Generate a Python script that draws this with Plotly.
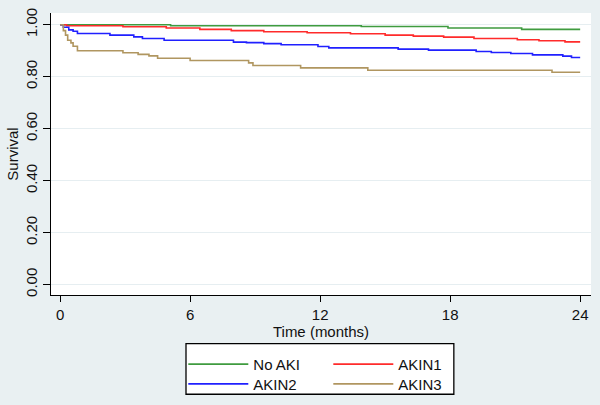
import plotly.graph_objects as go

# Kaplan-Meier step data (time in months, survival)
noaki_t = [0, 5.1, 13.9, 17.9, 21.3, 24]
noaki_s = [1.000, 0.996, 0.993, 0.987, 0.982, 0.982]

akin1_t = [0, 0.3, 2.9, 4.9, 6.45, 7.9, 9.4, 11.4, 13.4, 15.0, 16.3, 17.7, 19.1, 21.1, 22.1, 23.3, 24]
akin1_s = [1.000, 0.996, 0.992, 0.987, 0.982, 0.977, 0.973, 0.969, 0.965, 0.960, 0.956, 0.952, 0.947, 0.942, 0.938, 0.934, 0.934]

akin2_t = [0, 0.15, 0.4, 0.6, 0.8, 2.3, 3.4, 3.8, 4.8, 8.0, 8.6, 9.4, 10.2, 11.9, 12.4, 15.6, 17.0, 19.2, 19.9, 20.8, 21.8, 23.2, 23.6, 24]
akin2_s = [1.000, 0.990, 0.980, 0.975, 0.966, 0.960, 0.953, 0.947, 0.940, 0.933, 0.931, 0.927, 0.923, 0.916, 0.911, 0.906, 0.902, 0.897, 0.893, 0.889, 0.884, 0.879, 0.874, 0.874]

akin3_t = [0, 0.15, 0.25, 0.35, 0.5, 0.6, 0.8, 2.9, 3.6, 4.1, 4.5, 6.0, 8.7, 8.9, 11.1, 14.2, 22.7, 24]
akin3_s = [1.000, 0.977, 0.960, 0.940, 0.930, 0.917, 0.900, 0.892, 0.886, 0.880, 0.871, 0.862, 0.853, 0.843, 0.834, 0.825, 0.817, 0.817]

x_ticks = [0, 6, 12, 18, 24]
y_ticks = [0, 0.2, 0.4, 0.6, 0.8, 1.0]
y_ticklabels = ["0.00", "0.20", "0.40", "0.60", "0.80", "1.00"]

series = [
    ("No AKI", noaki_t, noaki_s, "#3f9b3f", "legend"),
    ("AKIN1", akin1_t, akin1_s, "#ff2b2b", "legend"),
    ("AKIN2", akin2_t, akin2_s, "#2020ff", "legend2"),
    ("AKIN3", akin3_t, akin3_s, "#b09660", "legend2"),
]

fig = go.Figure()
for name, t, s, col, lg in series:
    fig.add_trace(go.Scatter(x=t, y=s, mode="lines", name=name,
                             line=dict(color=col, width=1.6, shape="hv"),
                             legend=lg))

bg = "#e9f0f2"
font = dict(family="Liberation Sans, Arial, sans-serif", size=14, color="#111111")

legend_common = dict(orientation="h", x=0.245, xanchor="left", yanchor="middle",
                     bgcolor="rgba(0,0,0,0)", entrywidth=70, entrywidthmode="pixels",
                     itemwidth=60, font=dict(size=15), traceorder="normal",
                     tracegroupgap=0)

fig.update_layout(
    width=600, height=405,
    margin=dict(l=51, r=9, t=13, b=110, autoexpand=False),
    paper_bgcolor=bg, plot_bgcolor="white",
    font=font,
    xaxis=dict(range=[-0.42, 24.5], tickvals=x_ticks, ticktext=[str(v) for v in x_ticks],
               automargin=False,
               showgrid=False, zeroline=False, showline=True, linecolor="black", linewidth=1.3,
               ticks="outside", ticklen=6, tickcolor="black", tickfont=dict(size=15),
               title=dict(text="Time (months)", standoff=0, font=dict(size=15))),
    yaxis=dict(range=[-0.04, 1.045], tickvals=y_ticks, ticktext=y_ticklabels, tickangle=-90,
               automargin=False,
               showgrid=True, gridcolor="#e6eef1", gridwidth=1, zeroline=False,
               showline=True, linecolor="black", linewidth=1.3,
               ticks="outside", ticklen=7, tickcolor="black", tickfont=dict(size=15),
               title=dict(text="Survival", standoff=0, font=dict(size=15))),
    legend=dict(legend_common, y=-0.246),
    legend2=dict(legend_common, y=-0.316),
    shapes=[dict(type="rect", xref="paper", yref="paper",
                 x0=0.25, x1=0.746, y0=-0.352, y1=-0.1725,
                 line=dict(color="black", width=1.3), fillcolor="white", layer="below")],
)

fig.write_html("out.html", config={"displayModeBar": False},
               post_script="document.body.style.margin='0';document.body.style.background='%s';" % bg)
